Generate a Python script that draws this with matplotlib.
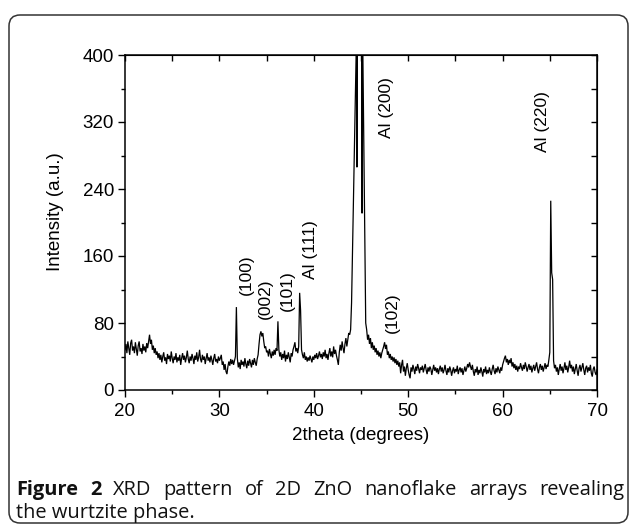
import numpy as np
import matplotlib
matplotlib.use("Agg")
import matplotlib.pyplot as plt
from matplotlib.patches import FancyBboxPatch
from matplotlib.transforms import IdentityTransform
from matplotlib.ticker import MultipleLocator

# ---------------- data ----------------
# 2theta 20.0 .. 43.8, step 0.1
seg_a_start, seg_a_end = 20.0, 43.8
seg_a = [
    48, 55, 44, 58, 50, 42, 56, 60, 47, 52,   # 20
    44, 57, 49, 41, 53, 58, 46, 50, 43, 55,   # 21
    47, 52, 45, 56, 50, 58, 66, 55, 60, 48,   # 22
    53, 44, 50, 42, 46, 38, 44, 36, 42, 33,   # 23
    40, 45, 35, 39, 31, 43, 37, 41, 34, 46,   # 24
    38, 32, 40, 36, 44, 33, 39, 35, 42, 30,   # 25
    38, 44, 36, 41, 33, 39, 47, 37, 32, 40,   # 26
    35, 43, 38, 31, 41, 36, 45, 34, 39, 48,   # 27
    37, 33, 42, 36, 40, 31, 38, 44, 35, 39,   # 28
    33, 41, 36, 30, 38, 43, 34, 37, 32, 40,   # 29
    35, 38, 42, 30, 34, 24, 31, 22, 19, 28,   # 30
    34, 29, 37, 31, 36, 30, 35, 40, 99, 38,   # 31
    27, 33, 25, 36, 30, 34, 28, 38, 31, 26,   # 32
    35, 29, 37, 32, 27, 36, 30, 38, 33, 29,   # 33
    37, 42, 55, 66, 70, 64, 68, 58, 50, 52,   # 34
    45, 47, 40, 49, 43, 38, 46, 41, 48, 42,   # 35
    50, 47, 82, 48, 40, 45, 36, 43, 38, 47,   # 36
    34, 42, 37, 45, 39, 33, 44, 40, 48, 52,   # 37
    57, 46, 50, 44, 52, 116, 95, 48, 42, 38,  # 38
    45, 36, 40, 34, 39, 35, 41, 37, 33, 40,   # 39
    36, 42, 38, 44, 37, 41, 46, 39, 43, 37,   # 40
    45, 40, 48, 38, 43, 36, 44, 50, 40, 46,   # 41
    39, 52, 43, 48, 41, 36, 30, 45, 54, 47,   # 42
    58, 50, 44, 55, 62, 52, 60, 68, 66,       # 43.0-43.8
]

# Al (200) main peak (clipped at the top of the frame)
peak_theta = [43.9, 44.0, 44.5, 44.53, 44.57, 44.61, 45.08, 45.11, 45.14, 45.17, 45.5]
peak_int = [72, 104, 410, 1500, 266, 1500, 1500, 211, 1500, 430, 80]

# 2theta 45.6 .. 70.0, step 0.1
seg_b_start, seg_b_end = 45.6, 70.0
seg_b = [
    72, 60, 66, 55,                           # 45.6-45.9
    62, 50, 57, 48, 53, 45, 50, 42, 47, 40,   # 46
    45, 38, 44, 48, 52, 57, 49, 54, 42, 46,   # 47
    38, 43, 36, 40, 34, 39, 32, 37, 30, 35,   # 48
    28, 33, 20, 30, 36, 22, 28, 17, 26, 32,   # 49
    24, 18, 14, 27, 22, 30, 25, 19, 28, 23,   # 50
    31, 26, 20, 27, 24, 29, 21, 26, 31, 24,   # 51
    19, 27, 22, 28, 25, 18, 24, 30, 23, 27,   # 52
    21, 26, 19, 25, 29, 22, 27, 20, 24, 30,   # 53
    23, 18, 26, 21, 28, 24, 17, 23, 27, 20,   # 54
    25, 22, 29, 19, 24, 27, 21, 26, 18, 23,   # 55
    28, 22, 26, 31, 27, 33, 28, 24, 30, 22,   # 56
    17, 25, 21, 28, 18, 24, 20, 27, 22, 16,   # 57
    25, 21, 28, 19, 24, 20, 27, 22, 18, 25,   # 58
    30, 23, 19, 26, 21, 28, 24, 20, 27, 23,   # 59
    30, 34, 38, 41, 33, 37, 30, 36, 32, 38,   # 60
    28, 33, 26, 31, 24, 29, 22, 28, 25, 32,   # 61
    27, 23, 30, 25, 33, 28, 22, 27, 31, 24,   # 62
    29, 21, 26, 30, 23, 28, 33, 25, 20, 27,   # 63
    31, 24, 29, 22, 27, 32, 25, 30, 28, 36,   # 64
    45, 226, 140, 132, 35, 26, 30, 22, 27, 18,  # 65
    25, 31, 23, 28, 20, 26, 33, 24, 29, 21,   # 66
    27, 35, 26, 30, 22, 28, 19, 25, 31, 23,   # 67
    17, 26, 30, 22, 27, 32, 24, 18, 26, 29,   # 68
    21, 27, 23, 30, 20, 16, 25, 28, 21, 18,   # 69
    24,                                       # 70.0
]

peak_labels = ["(100)", "(002)", "(101)", "Al (111)", "Al (200)", "(102)", "Al (220)"]
label_theta = [32.9, 34.9, 37.2, 39.6, 47.75, 48.3, 64.2]
label_int = [138, 109, 119, 168, 337, 92, 320]

x_ticks = [20, 30, 40, 50, 60, 70]
y_ticks = [0, 80, 160, 240, 320, 400]

caption_bold = ["Figure", "2"]
caption_line1 = ["XRD", "pattern", "of", "2D", "ZnO", "nanoflake", "arrays", "revealing"]
caption_line2 = "the wurtzite phase."

# ---------------- figure ----------------
W, H = 629, 525
fig = plt.figure(figsize=(W / 100, H / 100), dpi=100)

def fx(px):
    return px / W

def fy(py):
    return 1 - py / H

ax_l, ax_r, ax_t, ax_b = 125, 597, 55, 390
ax = fig.add_axes([fx(ax_l), fy(ax_b), fx(ax_r - ax_l), (ax_b - ax_t) / H])

theta = np.concatenate([
    np.linspace(seg_a_start, seg_a_end, len(seg_a)),
    np.array(peak_theta),
    np.linspace(seg_b_start, seg_b_end, len(seg_b)),
])
inten = np.concatenate([np.array(seg_a, float), np.array(peak_int, float), np.array(seg_b, float)])

ax.plot(theta, inten, color="black", lw=0.9, solid_joinstyle="miter")
ax.set_xlim(20, 70)
ax.set_ylim(0, 400)

tick_font = dict(family="Liberation Sans", size=13.5)
ax.set_xticks(x_ticks)
ax.set_yticks(y_ticks)
ax.set_xticklabels([str(v) for v in x_ticks], fontdict=tick_font)
ax.set_yticklabels([str(v) for v in y_ticks], fontdict=tick_font)
ax.xaxis.set_minor_locator(MultipleLocator(5))
ax.yaxis.set_minor_locator(MultipleLocator(40))
ax.tick_params(axis="both", which="major", direction="out", length=5, width=1.0, pad=3,
               top=False, right=False)
ax.tick_params(axis="both", which="minor", direction="out", length=3, width=1.0,
               top=False, right=False)
ax.tick_params(axis="x", which="major", pad=4)
for s in ax.spines.values():
    s.set_linewidth(1.1)

top = ax.secondary_xaxis("top")
top.set_xticks(np.arange(20, 71, 5))
top.tick_params(direction="in", length=4, width=1.0, labeltop=False)
top.xaxis.set_minor_locator(plt.NullLocator())
right = ax.secondary_yaxis("right")
right.set_yticks(np.arange(0, 401, 40))
right.tick_params(direction="in", length=4, width=1.0, labelright=False)
right.yaxis.set_minor_locator(plt.NullLocator())

for lab, xv, yv in zip(peak_labels, label_theta, label_int):
    ax.text(xv, yv, lab, rotation=90, ha="center", va="center",
            family="Liberation Sans", size=12.5)

fig.text(fx(361), fy(436), "2theta (degrees)", ha="center", va="center",
         family="Liberation Sans", size=13.5)
fig.text(fx(55), fy(212), "Intensity (a.u.)", ha="center", va="center", rotation=90,
         family="Liberation Sans", size=13.5)

# outer rounded frame (pixel coordinates)
frame = FancyBboxPatch((9, H - 523), 619, 508, boxstyle="round,pad=0,rounding_size=11",
                       transform=IdentityTransform(), fill=False, edgecolor="#333333",
                       linewidth=1.1)
fig.patches.append(frame)

# caption, line 1 justified between x=16 and x=624
cap_font = dict(family="Open Sans", size=14.4, color="#111111")
renderer = fig.canvas.get_renderer()
words = [(w, "bold") for w in caption_bold] + [(w, "normal") for w in caption_line1]
texts = []
for w, weight in words:
    t = fig.text(0, fy(495), w, ha="left", va="baseline", fontweight=weight, **cap_font)
    texts.append(t)
widths = [t.get_window_extent(renderer).width for t in texts]
x0, x1 = 16, 624
gap = (x1 - x0 - sum(widths)) / (len(texts) - 1)
xpos = x0
for t, w in zip(texts, widths):
    t.set_x(fx(xpos))
    xpos += w + gap
fig.text(fx(16), fy(518), caption_line2, ha="left", va="baseline", **cap_font)

fig.savefig("out.png", dpi=100)
